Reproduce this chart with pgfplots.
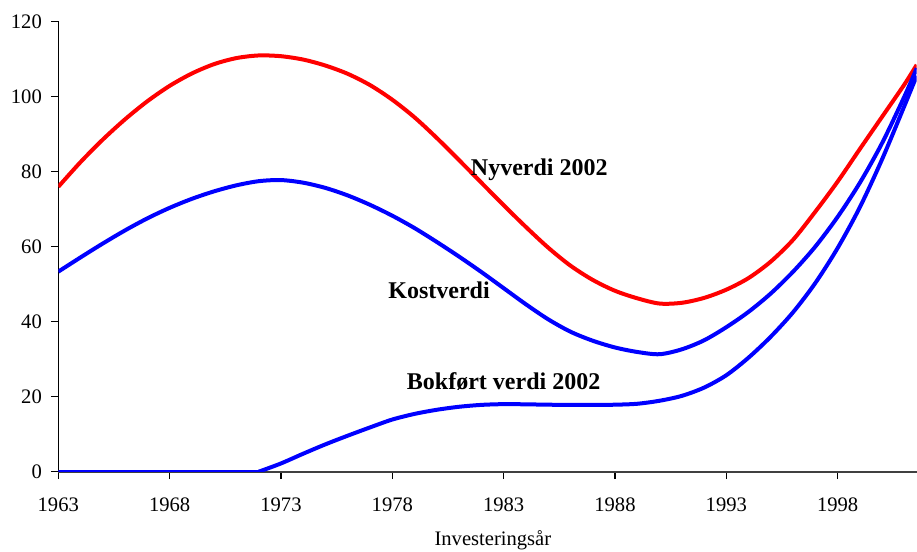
\documentclass[border=0pt]{standalone}
\usepackage{fontspec}
\setmainfont{Liberation Serif}
\usepackage{pgfplots}
\usepackage{pgfplotstable}
\pgfplotsset{compat=1.18}

\pgfplotstableread{
year val
1963 75.9
1964 82.5
1965 88.5
1966 93.9
1967 98.7
1968 102.8
1969 106.1
1970 108.6
1971 110.2
1972 110.9
1973 110.7
1974 109.8
1975 108.2
1976 106.0
1977 103.0
1978 99.1
1979 94.4
1980 88.9
1981 83.0
1982 77.0
1983 71.0
1984 65.2
1985 59.7
1986 54.9
1987 51.1
1988 48.2
1989 46.2
1990 44.8
1991 45.0
1992 46.3
1993 48.5
1994 51.6
1995 56.0
1996 61.8
1997 69.3
1998 77.3
1999 86.0
2000 94.6
2001 103.2
2001.55 108.4
}\nyverdi

\pgfplotstableread{
year val
1963 53.3
1964 57.1
1965 60.8
1966 64.3
1967 67.5
1968 70.3
1969 72.7
1970 74.7
1971 76.3
1972 77.4
1973 77.7
1974 77.0
1975 75.6
1976 73.6
1977 71.1
1978 68.2
1979 64.9
1980 61.2
1981 57.3
1982 53.2
1983 48.9
1984 44.6
1985 40.6
1986 37.3
1987 34.9
1988 33.1
1989 31.9
1990 31.3
1991 32.6
1992 35.0
1993 38.5
1994 42.6
1995 47.5
1996 53.3
1997 60.0
1998 67.9
1999 77.0
2000 87.6
2001 100.0
2001.55 107.5
}\kostverdi

\pgfplotstableread{
year val
1972 0.0
1973 2.2
1974 4.8
1975 7.3
1976 9.6
1977 11.8
1978 13.9
1979 15.4
1980 16.5
1981 17.3
1982 17.8
1983 18.0
1984 17.95
1985 17.85
1986 17.8
1987 17.8
1988 17.85
1989 18.1
1990 18.9
1991 20.2
1992 22.4
1993 25.7
1994 30.4
1995 36.0
1996 42.5
1997 50.3
1998 59.6
1999 70.5
2000 83.3
2001 97.5
2001.55 105.5
}\bokfort

\begin{document}
\begin{tikzpicture}
\begin{axis}[
  scale only axis,
  width=429.2pt, height=225.2pt,
  xmin=1963, xmax=2001.55, ymin=0, ymax=120,
  axis x line=bottom, axis y line=left,
  x axis line style={-, draw=black!75, line width=0.9pt},
  y axis line style={-, draw=black, line width=0.5pt},
  xtick={1963,1968,...,1998},
  ytick={0,20,...,120},
  tick align=outside,
  x tick style={black, line width=0.6pt},
  y tick style={black, line width=0.5pt},
  major tick length=3.7pt,
  ticklabel style={font=\fontsize{10.3}{12}\selectfont},
  /pgf/number format/assume math mode=true,
  xticklabel style={/pgf/number format/1000 sep={}, yshift=-6pt},
  yticklabel style={xshift=-1pt},
  xlabel={Investeringsår},
  xlabel style={font=\fontsize{10.3}{12}\selectfont, at={(axis description cs:0.5,0)}, anchor=center, yshift=-34.2pt, xshift=2.7pt},
  clip=true,
]
\addplot[draw={rgb,255:red,255;green,0;blue,0}, line width=2pt, smooth] table[x=year,y=val] {\nyverdi};
\addplot[draw={rgb,255:red,0;green,0;blue,255}, line width=2pt, smooth] table[x=year,y=val] {\kostverdi};
\addplot[draw={rgb,255:red,0;green,0;blue,255}, line width=2pt] coordinates {(1963,0) (1972,0)};
\addplot[draw={rgb,255:red,0;green,0;blue,255}, line width=2pt, smooth] table[x=year,y=val] {\bokfort};
\node[font=\bfseries\fontsize{12}{14}\selectfont] at (axis cs:1984.6,80.4) {Nyverdi 2002};
\node[font=\bfseries\fontsize{12}{14}\selectfont] at (axis cs:1980.1,48.4) {Kostverdi};
\node[font=\bfseries\fontsize{12}{14}\selectfont] at (axis cs:1983.0,24.0) {Bokført verdi 2002};
\end{axis}
\pgfresetboundingbox
\path[use as bounding box] ([shift={(-29.15pt,-40.15pt)}]current axis.south west) rectangle ([shift={(0.15pt,10.65pt)}]current axis.north east);
\end{tikzpicture}
\end{document}
